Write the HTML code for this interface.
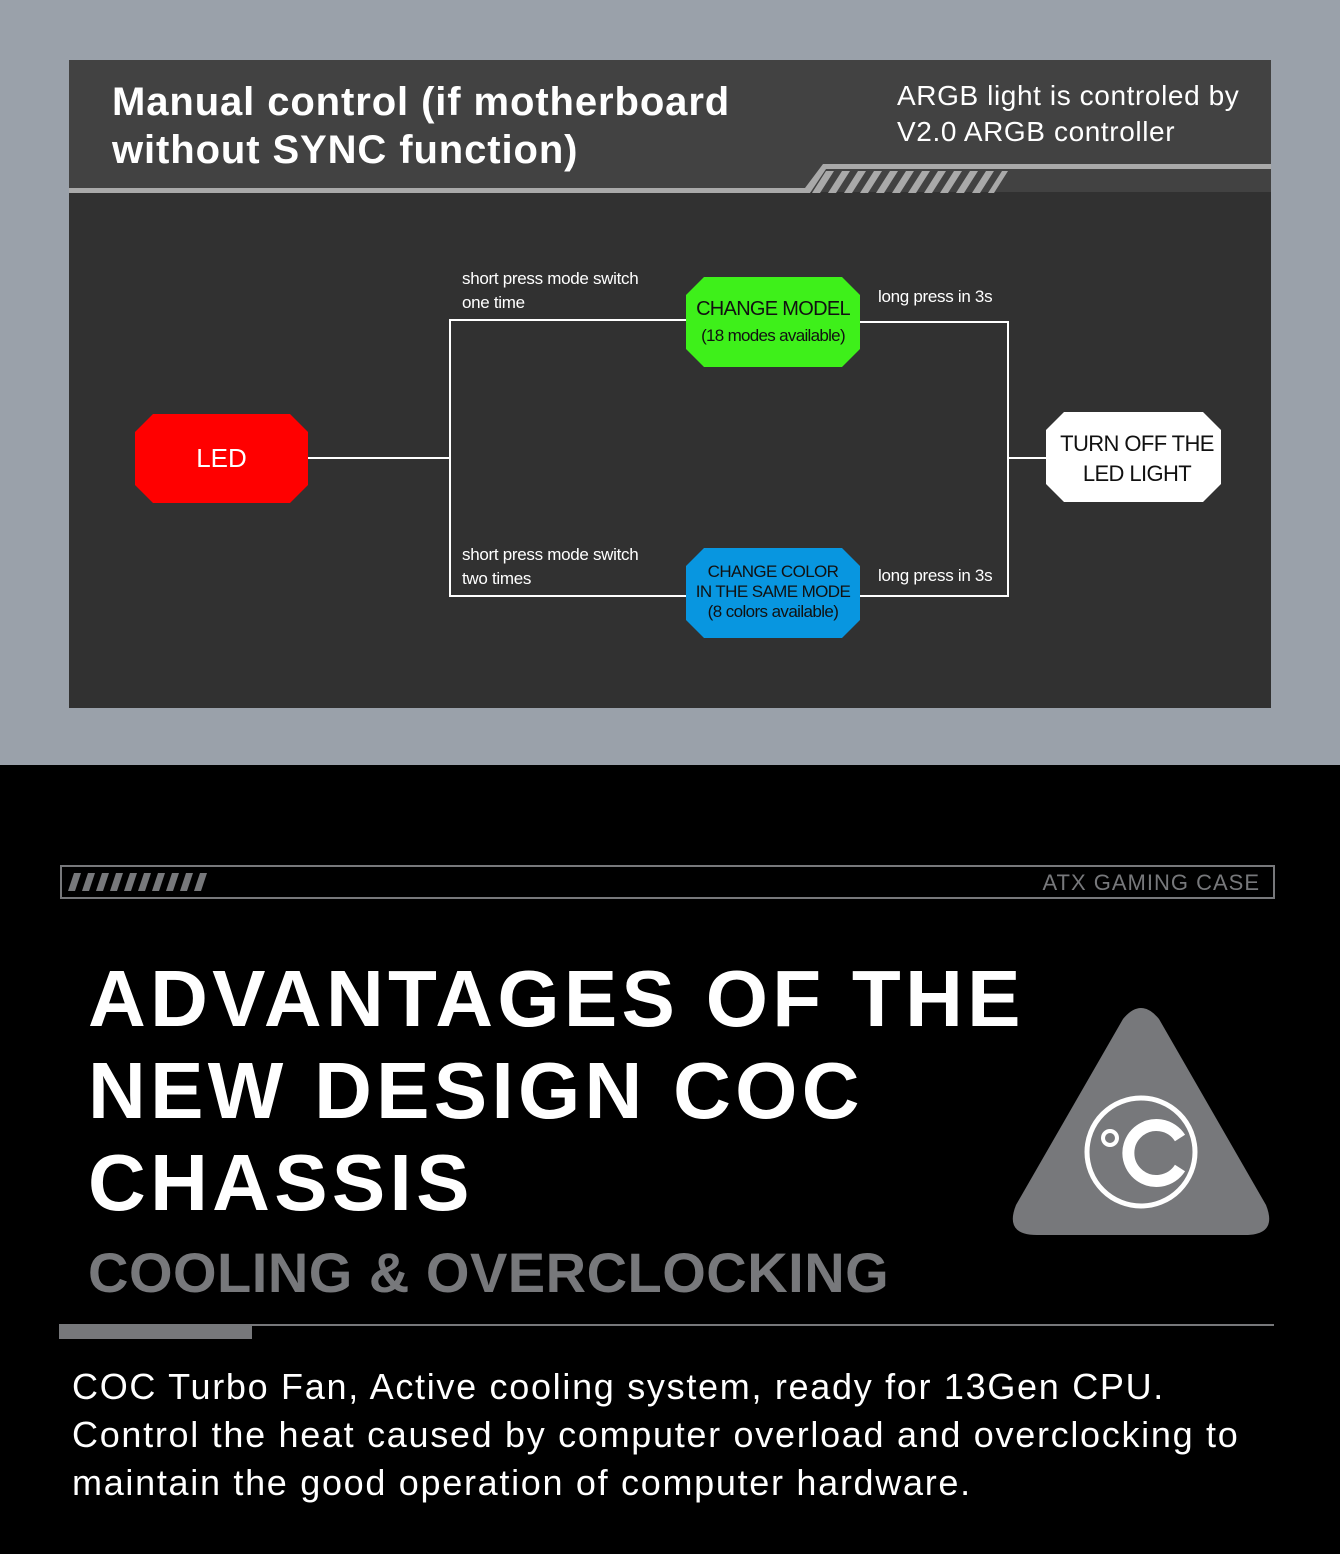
<!DOCTYPE html>
<html><head><meta charset="utf-8"><style>
body{margin:0;width:1340px;height:1554px;position:relative;overflow:hidden;font-family:"Liberation Sans",sans-serif;background:#000}
.a{position:absolute;white-space:nowrap}
</style></head><body>
<div class="a" style="left:0;top:0;width:1340px;height:765px;background:#9aa1aa"></div>
<svg class="a" style="left:0;top:0" width="1340" height="765">
<rect x="69" y="60" width="1202" height="648" fill="#313131"/>
<rect x="69" y="60" width="1202" height="132" fill="#424242"/>
<polygon points="69,188 805,188 823,164 1271,164 1271,169 826,169 810,193 69,193" fill="#a9a9a9"/>
<g fill="#a9a9a9">
<polygon points="812,193 826,171 834,171 820,193"/><polygon points="828,193 842,171 850,171 836,193"/><polygon points="844,193 858,171 866,171 852,193"/><polygon points="860,193 874,171 882,171 868,193"/><polygon points="876,193 890,171 898,171 884,193"/><polygon points="892,193 906,171 914,171 900,193"/><polygon points="908,193 922,171 930,171 916,193"/><polygon points="924,193 938,171 946,171 932,193"/><polygon points="940,193 954,171 962,171 948,193"/><polygon points="956,193 970,171 978,171 964,193"/><polygon points="972,193 986,171 994,171 980,193"/><polygon points="988,193 1002,171 1008,171 994,193"/>
</g>
<g stroke="#fff" stroke-width="2" fill="none">
<line x1="308" y1="458" x2="450" y2="458"/>
<polyline points="686,320 450,320 450,596 686,596"/>
<polyline points="860,322 1008,322 1008,596 860,596"/>
<line x1="1008" y1="458" x2="1046" y2="458"/>
</g>
<polygon points="153,414 290,414 308,432 308,485 290,503 153,503 135,485 135,432" fill="#f00"/>
<polygon points="704,277 842,277 860,295 860,349 842,367 704,367 686,349 686,295" fill="#3ef01a"/>
<polygon points="704,548 842,548 860,566 860,620 842,638 704,638 686,620 686,566" fill="#0896e0"/>
<polygon points="1064,412 1203,412 1221,430 1221,484 1203,502 1064,502 1046,484 1046,430" fill="#fff"/>
</svg>
<div class="a" style="left:112px;top:78px;color:#fff;font-weight:bold;font-size:40px;line-height:48px;letter-spacing:0.9px">Manual control (if motherboard<br>without SYNC function)</div>
<div class="a" style="left:897px;top:78px;color:#fff;font-size:28px;line-height:36px;letter-spacing:0.6px">ARGB light is controled by<br>V2.0 ARGB controller</div>
<div class="a" style="left:462px;top:267px;color:#fff;font-size:17px;line-height:24px;letter-spacing:-0.3px">short press mode switch<br>one time</div>
<div class="a" style="left:462px;top:543px;color:#fff;font-size:17px;line-height:24px;letter-spacing:-0.3px">short press mode switch<br>two times</div>
<div class="a" style="left:878px;top:287px;color:#fff;font-size:17px;letter-spacing:-0.3px">long press in 3s</div>
<div class="a" style="left:878px;top:566px;color:#fff;font-size:17px;letter-spacing:-0.3px">long press in 3s</div>
<div class="a" style="left:135px;top:443px;width:173px;text-align:center;color:#fff;font-size:26px">LED</div>
<div class="a" style="left:686px;top:296px;width:174px;text-align:center;color:#111;font-size:20px;line-height:26px;letter-spacing:-0.7px">CHANGE MODEL<br><span style="font-size:17px">(18 modes available)</span></div>
<div class="a" style="left:686px;top:562px;width:174px;text-align:center;color:#111;font-size:17px;line-height:20px;letter-spacing:-0.6px">CHANGE COLOR<br>IN THE SAME MODE<br>(8 colors available)</div>
<div class="a" style="left:1046px;top:429px;width:182px;text-align:center;color:#111;font-size:22px;line-height:30px;letter-spacing:-0.6px">TURN OFF THE<br>LED LIGHT</div>

<div class="a" style="left:60px;top:865px;width:1211px;height:30px;border:2px solid #77787b"></div>
<svg class="a" style="left:60px;top:865px" width="160" height="34"><g fill="#77787b">
<polygon points="8,26 14,8 21,8 15,26"/><polygon points="22,26 28,8 35,8 29,26"/><polygon points="36,26 42,8 49,8 43,26"/><polygon points="50,26 56,8 63,8 57,26"/><polygon points="64,26 70,8 77,8 71,26"/><polygon points="78,26 84,8 91,8 85,26"/><polygon points="92,26 98,8 105,8 99,26"/><polygon points="106,26 112,8 119,8 113,26"/><polygon points="120,26 126,8 133,8 127,26"/><polygon points="134,26 140,8 147,8 141,26"/></g></svg>
<div class="a" style="left:1000px;top:870px;width:260px;text-align:right;color:#77787b;font-size:22px;letter-spacing:1px">ATX GAMING CASE</div>
<div class="a" style="left:88px;top:953px;color:#fff;font-weight:bold;font-size:80px;line-height:92px;letter-spacing:4.3px">ADVANTAGES OF THE<br>NEW DESIGN COC<br>CHASSIS</div>
<div class="a" style="left:88px;top:1240px;color:#77787b;font-weight:bold;font-size:56px;letter-spacing:0.5px">COOLING &amp; OVERCLOCKING</div>
<svg class="a" style="left:1010px;top:1005px" width="262" height="232">
<path d="M113,14 Q131,-8 149,14 L256,200 Q268,230 235,230 L27,230 Q-6,230 6,200 Z" fill="#77787b"/>
<circle cx="131" cy="147" r="54" fill="none" stroke="#fff" stroke-width="5"/>
<circle cx="100" cy="133" r="7" fill="none" stroke="#fff" stroke-width="4"/>
<path d="M170,133 A28,28 0 1 0 170,163" fill="none" stroke="#fff" stroke-width="12"/>
</svg>
<div class="a" style="left:59px;top:1324px;width:1215px;height:2px;background:#77787b"></div>
<div class="a" style="left:59px;top:1326px;width:193px;height:13px;background:#77787b"></div>
<div class="a" style="left:72px;top:1363px;color:#fff;font-size:36px;line-height:48px;letter-spacing:1.7px">COC Turbo Fan, Active cooling system, ready for 13Gen CPU.<br>Control the heat caused by computer overload and overclocking to<br>maintain the good operation of computer hardware.</div>
</body></html>
